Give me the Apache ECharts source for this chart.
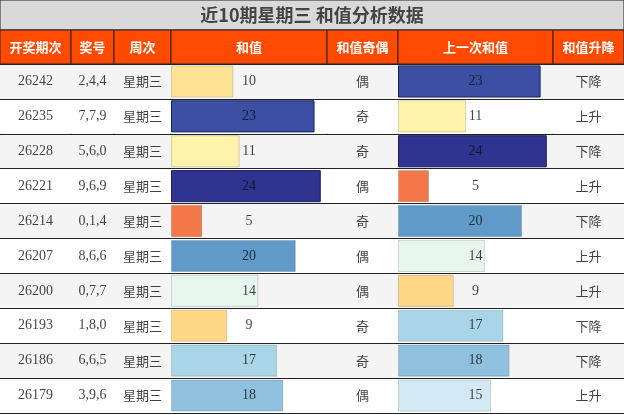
<!DOCTYPE html><html><head><meta charset="utf-8">
<script src="https://cdn.jsdelivr.net/npm/echarts@6/dist/echarts.min.js"></script>
<style>html,body{margin:0;padding:0}#c{width:624px;height:415px}</style></head><body><div id="c"></div>
<script>
const title='近10期星期三 和值分析数据';
const headers=['开奖期次','奖号','周次','和值','和值奇偶','上一次和值','和值升降'];
const periods=['26242','26235','26228','26221','26214','26207','26200','26193','26186','26179'];
const nums=['2,4,4','7,7,9','5,6,0','9,6,9','0,1,4','8,6,6','0,7,7','1,8,0','6,6,5','3,9,6'];
const weekdays=['星期三','星期三','星期三','星期三','星期三','星期三','星期三','星期三','星期三','星期三'];
const sums=[10,23,11,24,5,20,14,9,17,18];
const parity=['偶','奇','奇','偶','奇','偶','偶','奇','奇','偶'];
const prevSums=[23,11,24,5,20,14,9,17,18,15];
const trend=['下降','上升','下降','上升','下降','上升','上升','下降','下降','上升'];
const colorOf={5:'#f4774a',9:'#ffd785',10:'#ffe294',11:'#fff2aa',14:'#e6f5ee',15:'#d3eaf4',17:'#a8d6e7',18:'#8fc0dd',20:'#5f9ac9',23:'#3b50a4',24:'#30338f'};
const edges=[0,71,114,171,327,398,553,624];
const tableTop=64,tableBottom=413;
const rows=periods.map((_,i)=>String(i));
const cols=[
 {text:periods,font:'Liberation Serif'},
 {text:nums,font:'Liberation Serif'},
 {text:weekdays,font:'Noto Sans CJK SC'},
 {bar:sums},
 {text:parity,font:'Noto Sans CJK SC'},
 {bar:prevSums},
 {text:trend,font:'Noto Sans CJK SC'}
];
const grid=[],xAxis=[],yAxis=[],series=[];
cols.forEach((c,k)=>{
 grid.push({left:edges[k],top:tableTop,width:edges[k+1]-edges[k],height:tableBottom-tableTop,show:true,borderColor:'#222',borderWidth:1});
 const mx=c.bar?25:1;
 xAxis.push({gridIndex:k,type:'value',min:0,max:mx,show:false});
 yAxis.push({gridIndex:k,type:'category',data:rows,inverse:true,axisLine:{show:false},axisTick:{show:false},axisLabel:{show:false},
  splitLine:{show:true,lineStyle:{color:'#222',width:1}},splitArea:{show:true,areaStyle:{color:['#f4f4f4','#ffffff']}}});
 if(c.bar){
  series.push({type:'bar',xAxisIndex:k,yAxisIndex:k,barWidth:'92%',silent:true,
   data:c.bar.map(v=>({value:v,itemStyle:{color:colorOf[v],borderColor:v>=23?'#1c2060':'rgba(0,0,0,0.15)',borderWidth:1}}))});
  series.push({type:'scatter',xAxisIndex:k,yAxisIndex:k,symbolSize:0,silent:true,z:5,
   data:c.bar.map((v,i)=>[mx/2,i,String(v)]),
   label:{show:true,position:'inside',formatter:p=>p.value[2],color:'#111',fontSize:14,fontFamily:'Liberation Serif'}});
 } else {
  series.push({type:'scatter',xAxisIndex:k,yAxisIndex:k,symbolSize:0,silent:true,
   data:c.text.map((t,i)=>[0.5,i,t]),
   label:{show:true,position:'inside',formatter:p=>p.value[2],color:'#111',fontSize:c.font.indexOf('Noto')>=0?13:14,fontFamily:c.font}});
 }
});
const graphic=[
 {type:'rect',shape:{x:0,y:0,width:624,height:30},style:{fill:'#d9d9d9',stroke:'#222',lineWidth:1}},
 {type:'text',x:312,y:15,style:{text:title,fill:'#444',font:'bold 18px "Noto Sans CJK SC"',align:'center',verticalAlign:'middle'}}
];
headers.forEach((h,k)=>{
 graphic.push({type:'rect',shape:{x:edges[k],y:30,width:edges[k+1]-edges[k],height:tableTop-30},style:{fill:'#ff4a00',stroke:'#222',lineWidth:1}});
 graphic.push({type:'text',x:(edges[k]+edges[k+1])/2,y:(30+tableTop)/2,style:{text:h,fill:'#fff',font:'bold 13px "Noto Sans CJK SC"',align:'center',verticalAlign:'middle'}});
});
const chart=echarts.init(document.getElementById('c'));
chart.setOption({animation:false,grid,xAxis,yAxis,series,graphic});
</script></body></html>
